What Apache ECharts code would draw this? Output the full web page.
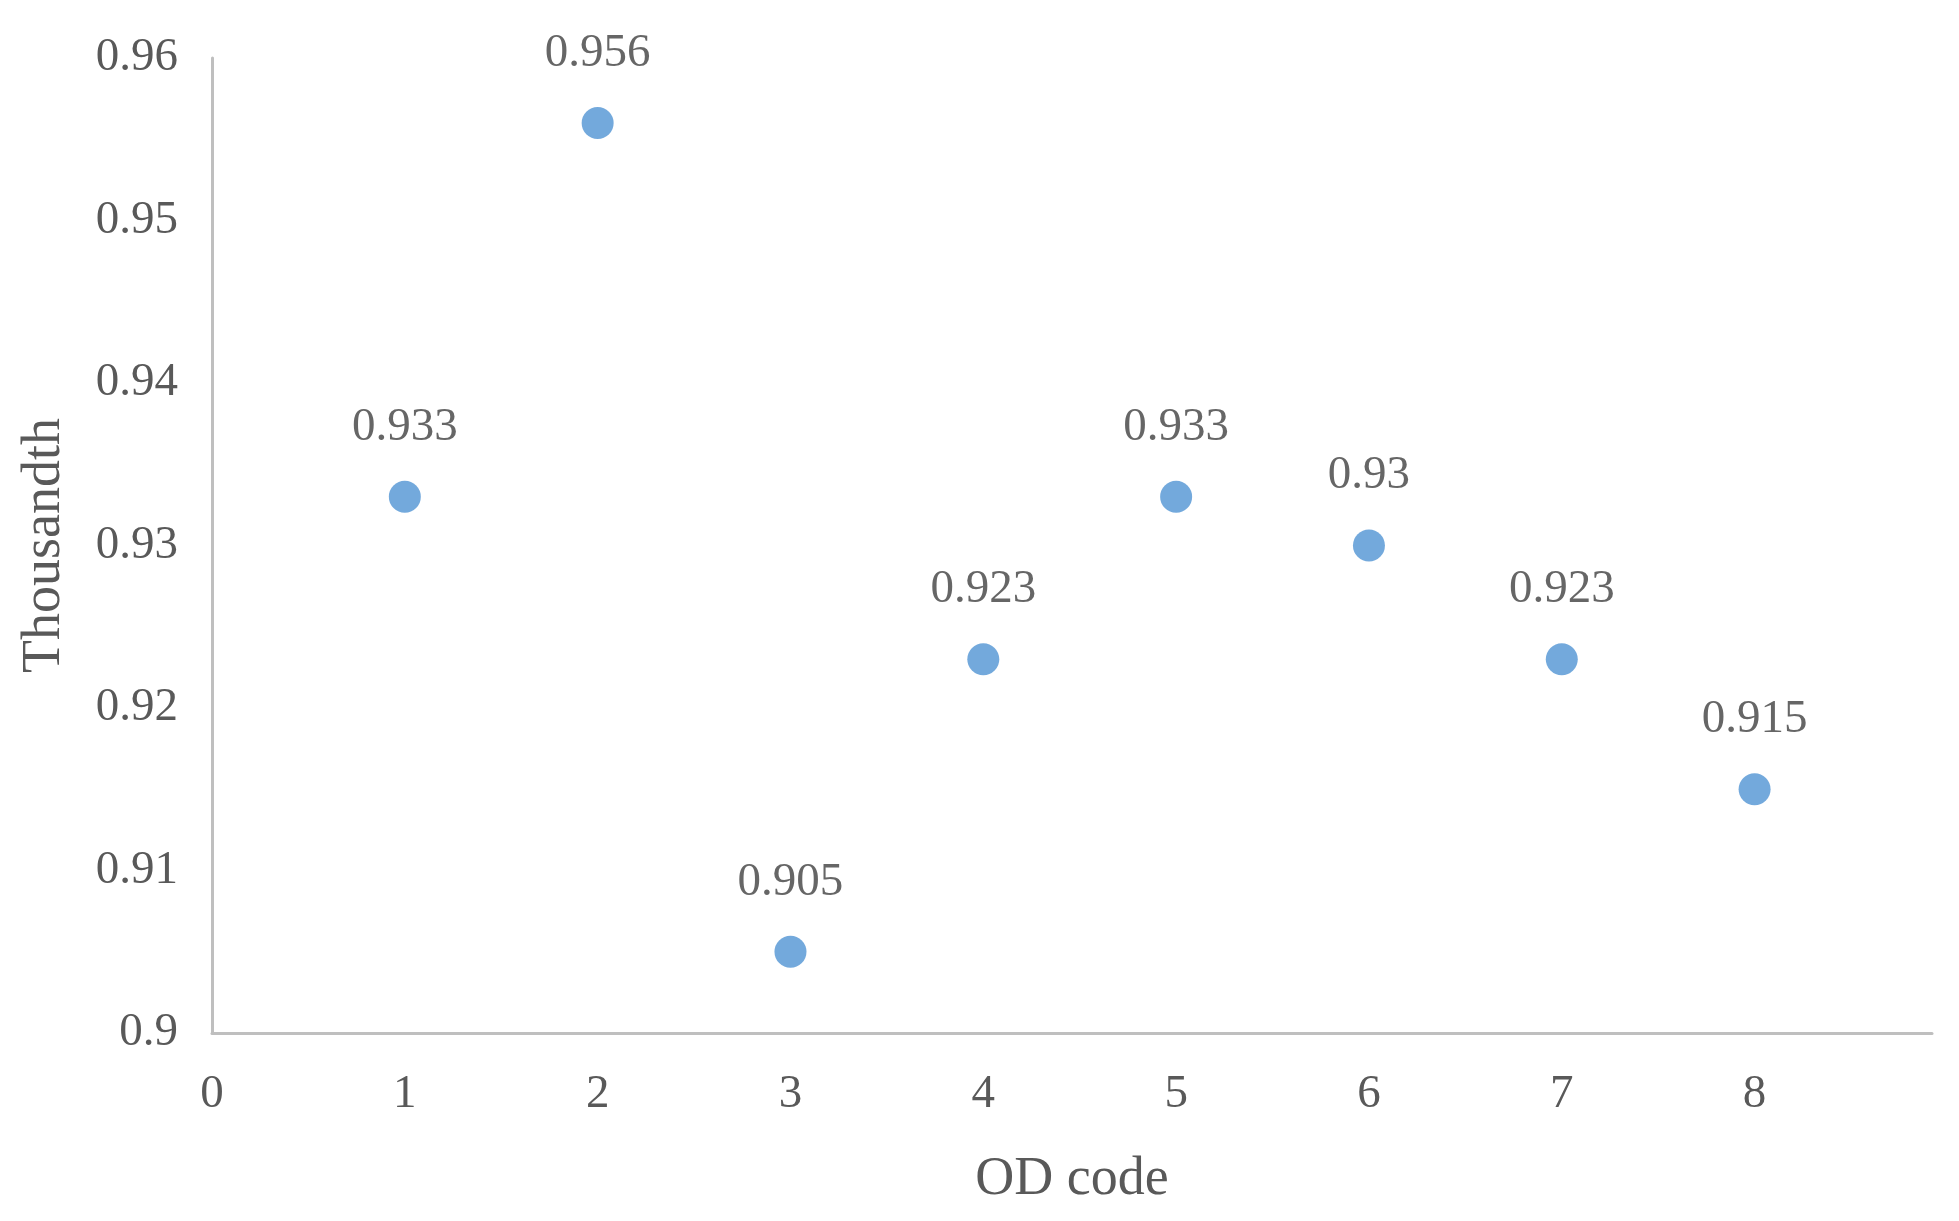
<!DOCTYPE html>
<html>
<head>
<meta charset="utf-8">
<script src="https://cdn.jsdelivr.net/npm/echarts@6/dist/echarts.min.js"></script>
<style>html,body{margin:0;padding:0;background:#fff;}#c{width:1959px;height:1221px;}</style>
</head>
<body>
<div id="c"></div>
<script>
const odCodes = [1, 2, 3, 4, 5, 6, 7, 8];
const thousandth = [0.933, 0.956, 0.905, 0.923, 0.933, 0.93, 0.923, 0.915];
const xTicks = [0, 1, 2, 3, 4, 5, 6, 7, 8];
const yTicks = [0.9, 0.91, 0.92, 0.93, 0.94, 0.95, 0.96];

const font = '"Liberation Serif", "DejaVu Serif", serif';
const chart = echarts.init(document.getElementById('c'));
chart.setOption({
  animation: false,
  backgroundColor: '#ffffff',
  grid: { left: 212, top: 58, right: 27, bottom: 188, containLabel: false },
  xAxis: {
    type: 'value', min: 0, max: 8.92, interval: 1,
    name: 'OD code', nameLocation: 'middle', nameGap: 120,
    nameTextStyle: { fontFamily: font, fontSize: 54, color: '#595959' },
    axisLine: { show: true, lineStyle: { color: '#bfbfbf', width: 3 } },
    axisTick: { show: false },
    splitLine: { show: false },
    axisLabel: { fontFamily: font, fontSize: 47, color: '#595959', margin: 38, showMaxLabel: false,
      formatter: v => xTicks.includes(Math.round(v)) ? String(Math.round(v)) : '' }
  },
  yAxis: {
    type: 'value', min: yTicks[0], max: yTicks[yTicks.length - 1], interval: 0.01,
    name: 'Thousandth', nameLocation: 'middle', nameGap: 140, nameRotate: 90,
    nameTextStyle: { fontFamily: font, fontSize: 54, color: '#595959' },
    axisLine: { show: true, lineStyle: { color: '#bfbfbf', width: 3 } },
    axisTick: { show: false },
    splitLine: { show: false },
    axisLabel: { fontFamily: font, fontSize: 47, color: '#595959', margin: 34,
      formatter: v => String(parseFloat(v.toFixed(2))) }
  },
  series: [{
    type: 'scatter',
    data: odCodes.map((c, i) => [c, thousandth[i]]),
    symbol: 'circle', symbolSize: 32,
    itemStyle: { color: '#5094d3' },
    label: {
      show: true, position: 'top', distance: 30,
      fontFamily: font, fontSize: 47, color: '#404040',
      formatter: p => String(p.value[1])
    }
  }]
});
</script>
</body>
</html>
